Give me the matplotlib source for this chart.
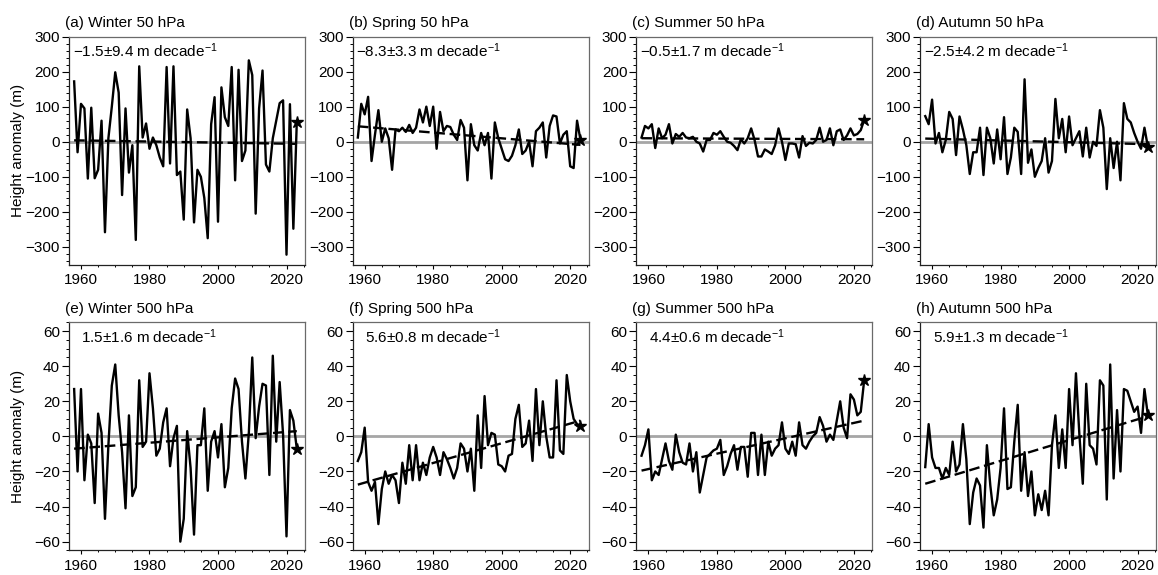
import numpy as np
import matplotlib.pyplot as plt
from matplotlib.ticker import MultipleLocator

plt.rcParams['font.family'] = ['Liberation Sans', 'DejaVu Sans']
plt.rcParams['mathtext.default'] = 'regular'

years = list(range(1958, 2024))

# 50 hPa height anomalies (m)
winter_50 = [172, -30, 108, 95, -105, 97, -104, -80, 60, -258,
             10, 100, 198, 140, -152, 95, -88, -10, -280, 215,
             12, 52, -20, 12, -10, -45, -70, 213, -62, 215,
             -95, -85, -222, 92, 10, -230, -80, -100, -160, -275,
             50, 127, -228, 155, 70, 45, 213, -110, 205, -55,
             -25, 232, 190, -205, 95, 203, -65, -85, 10, 60,
             110, 118, -322, 107, -248, 55]
spring_50 = [12, 108, 78, 128, -55, 20, 90, 0, 38, 10,
             -80, 35, 30, 40, 28, 48, 25, 40, 92, 55,
             100, 45, 100, -20, 85, 30, 45, 42, 20, 5,
             62, 40, -110, 50, -10, -25, 25, -10, 25, -105,
             55, 10, -20, -50, -55, -40, -10, 35, -35, -25,
             0, -70, 30, 40, 55, -45, 45, 75, 72, -5,
             20, 30, -70, -75, 60, 5]
summer_50 = [12, 45, 38, 50, -18, 38, 10, 20, 50, -5,
             22, 14, 25, 12, 10, 14, 0, -5, -28, 5,
             5, 25, 20, 30, 14, 0, -3, -12, -24, 7,
             -5, 10, 38, 5, -42, -42, -22, -28, -35, -10,
             38, 0, -52, -5, -5, -7, -45, 16, -12, -3,
             -5, 5, 40, 0, 5, 38, -10, 30, 35, 5,
             18, 38, 18, 22, 33, 62]
autumn_50 = [73, 50, 120, -5, 25, -30, 5, 85, 65, -38,
             72, 35, -10, -92, -30, -30, 40, -95, 40, 10,
             -62, 35, -50, 70, -92, -45, 40, 28, -92, 178,
             -60, -22, -100, -75, -55, 10, -88, -55, 122, 10,
             65, -30, 72, -10, 10, 30, -42, 40, -45, 0,
             -12, 90, 40, -135, 10, -75, 0, -110, 110, 65,
             55, 25, 0, -20, 40, -15]

# 500 hPa height anomalies (m)
winter_500 = [27, -20, 27, -25, 1, -4, -38, 13, 2, -47,
              -5, 29, 41, 12, -9, -41, 12, -34, -29, 32,
              -6, -3, 36, 16, -11, -7, 8, 16, -17, -1,
              6, -60, -47, 3, -18, -56, -5, -5, 16, -31,
              -3, 3, -12, 7, -29, -18, 16, 33, 27, -3,
              -24, 2, 45, -1, 17, 30, 29, -22, 46, -3,
              31, 1, -57, 15, 9, -7]
spring_500 = [-14, -9, 5, -26, -31, -26, -50, -30, -20, -27,
              -22, -25, -38, -15, -27, -5, -25, -5, -25, -15,
              -22, -12, -6, -12, -22, -9, -13, -18, -24, -18,
              -4, -7, -20, -7, -31, 12, -18, 23, -5, 2,
              1, -16, -17, -20, -11, -10, 10, 18, -6, -4,
              9, -14, 27, -5, 20, 0, -12, -12, 32, -8,
              -10, 35, 20, 10, 7, 6]
summer_500 = [-11, -5, 4, -25, -20, -22, -13, -4, -14, -19,
              1, -9, -15, -16, -4, -20, -9, -32, -22, -12,
              -10, -8, -7, -2, -22, -17, -10, -5, -19, -6,
              -6, -23, 2, 2, -22, 1, -22, -3, -11, -7,
              -5, 8, -7, -10, -3, -11, 8, -5, -7, -3,
              0, 2, 11, 6, -3, 1, -2, 9, 20, 5,
              -1, 24, 21, 12, 14, 32]
autumn_500 = [-17.5, 7, -12, -18, -18, -24, -18, -22, -3, -20,
              -16, 7, -13, -50, -32, -24, -28, -52, -5, -28,
              -45, -36, -18, 16, -30, -29, -3, 18, -31, -9,
              -34, -20, -45, -33, -42, -31, -45, -5, 12, -18,
              4, -18, 27, -5, 36, 1, -27, 30, -5, -7,
              -16, 32, 29, -36, 41, -24, 15, -20, 27, 26,
              20, 14, 17, 2, 27, 12]

# linear trend line, value at first and last year
trend_ends = [(4, -6), (44, -9), (10, 7), (9, -7),
              (-7, 3), (-27.5, 9), (-19.5, 9), (-27, 11.5)]

titles = ['(a) Winter 50 hPa', '(b) Spring 50 hPa', '(c) Summer 50 hPa', '(d) Autumn 50 hPa',
          '(e) Winter 500 hPa', '(f) Spring 500 hPa', '(g) Summer 500 hPa', '(h) Autumn 500 hPa']
trend_text = ['\u22121.5\u00b19.4', '\u22128.3\u00b13.3', '\u22120.5\u00b11.7', '\u22122.5\u00b14.2',
              '1.5\u00b11.6', '5.6\u00b10.8', '4.4\u00b10.6', '5.9\u00b11.3']
series = [winter_50, spring_50, summer_50, autumn_50,
          winter_500, spring_500, summer_500, autumn_500]

fig = plt.figure(figsize=(11.58, 5.75), dpi=100)
W, H = 1158, 575

for i in range(8):
    row, col = divmod(i, 4)
    left = (69 + col * 283.7) / W
    bottom = 1 - 264.5 / H if row == 0 else 1 - 550.4 / H
    ax = fig.add_axes([left, bottom, 236 / W, 228 / H])

    vals = series[i]
    ax.axhline(0, color='#a6a6a6', lw=2.0, zorder=1)
    ax.plot(years, vals, color='black', lw=1.7, zorder=3)
    ax.plot([years[0], years[-1]], trend_ends[i], color='black', lw=1.7,
            ls=(0, (4.5, 2)), zorder=4)
    ax.plot(years[-1], vals[-1], marker='*', ms=9, color='black', zorder=5)

    ax.set_xlim(1956.5, 2025.4)
    ax.xaxis.set_major_locator(MultipleLocator(20))
    ax.xaxis.set_minor_locator(MultipleLocator(5))
    if row == 0:
        ax.set_ylim(-350, 300)
        ax.yaxis.set_major_locator(MultipleLocator(100))
        ax.yaxis.set_minor_locator(MultipleLocator(20))
    else:
        ax.set_ylim(-65, 65)
        ax.yaxis.set_major_locator(MultipleLocator(20))
        ax.yaxis.set_minor_locator(MultipleLocator(5))

    ax.tick_params(axis='y', which='major', length=5, width=0.8, pad=1.5, labelsize=11)
    ax.tick_params(axis='y', which='minor', length=2.5, width=0.7)
    ax.tick_params(axis='x', which='major', length=3, width=0.8, pad=3, labelsize=11)
    ax.tick_params(axis='x', which='minor', length=1.7, width=0.7)
    ax.tick_params(which='both', direction='out', top=False, right=False)

    for s in ['left', 'bottom']:
        ax.spines[s].set_color('#222222')
        ax.spines[s].set_linewidth(0.9)
    for s in ['top', 'right']:
        ax.spines[s].set_color('#6a6a6a')
        ax.spines[s].set_linewidth(0.9)

    ax.text(-0.017, 1.06, titles[i], transform=ax.transAxes, ha='left', va='center', fontsize=11)
    ax.text(0.628, 0.908, trend_text[i] + ' m decade$^{\u22121}$', transform=ax.transAxes,
            ha='right', va='baseline', fontsize=11)

    if col == 0:
        ax.text(-0.214, 0.5, 'Height anomaly (m)', transform=ax.transAxes, rotation=90,
                ha='center', va='center', fontsize=11)

fig.savefig('out.png', dpi=100)
